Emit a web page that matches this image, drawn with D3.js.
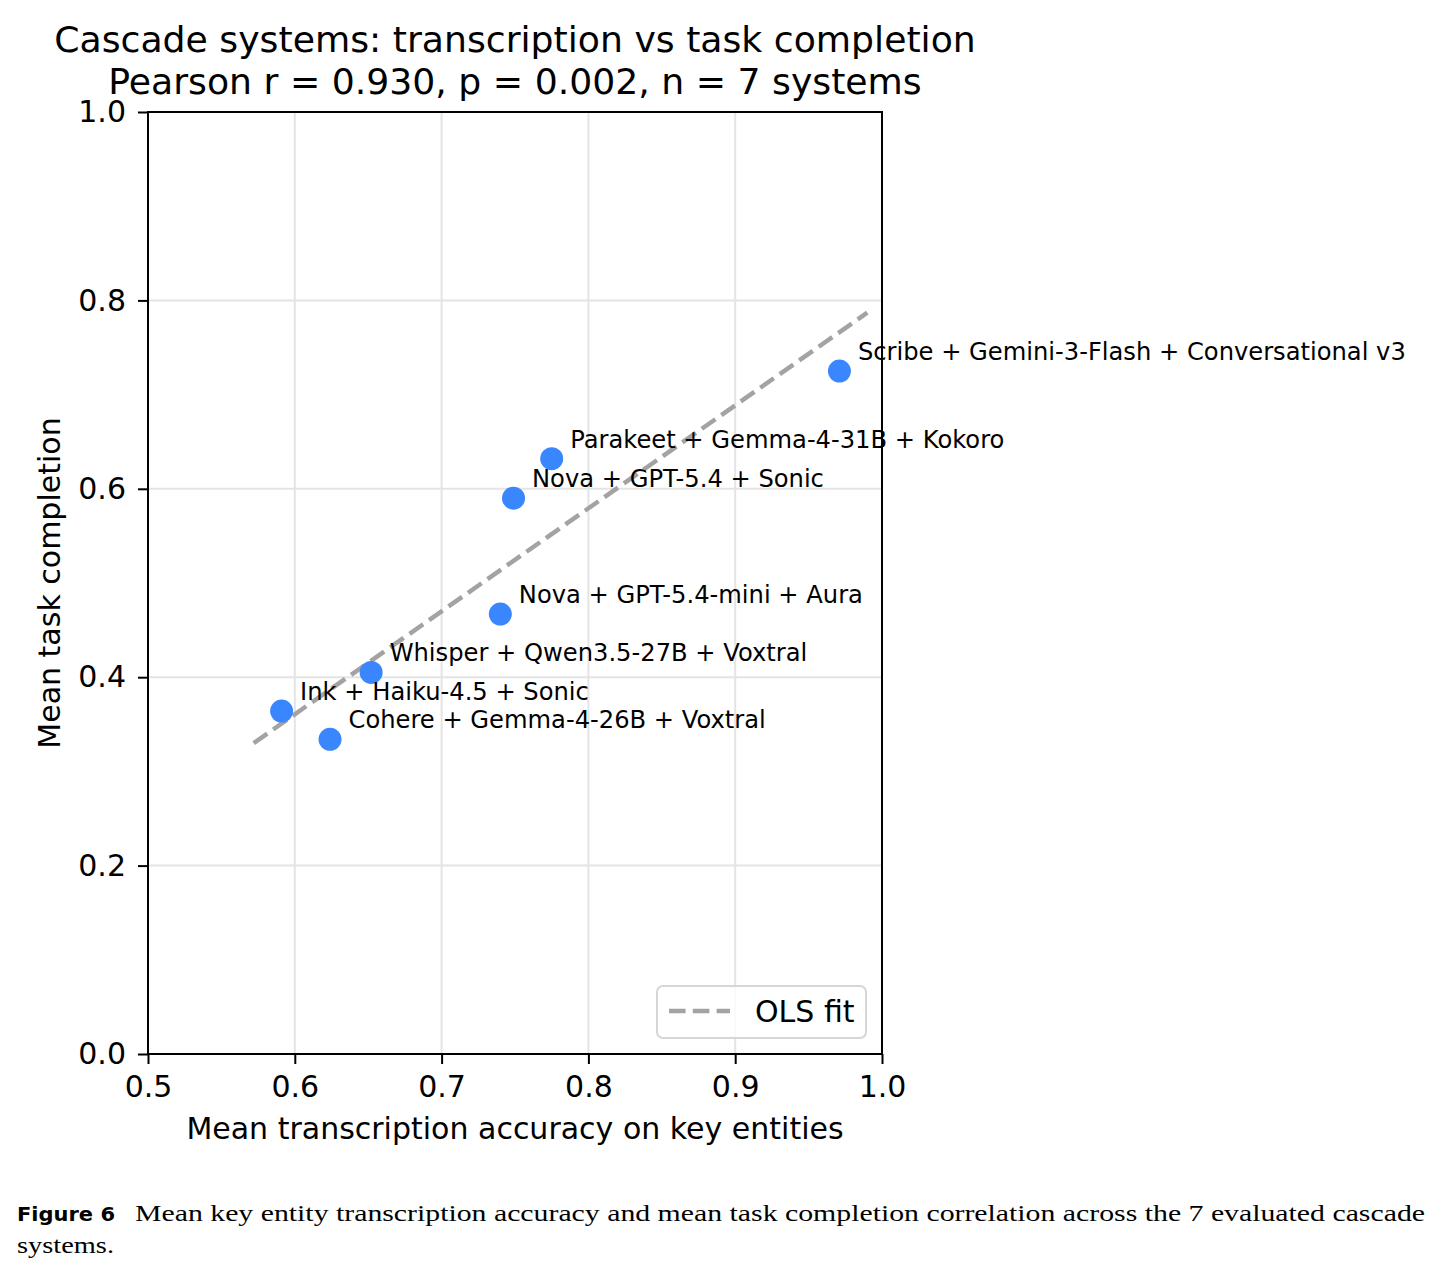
<!DOCTYPE html>
<html><head><meta charset="utf-8">
<script src="https://cdn.jsdelivr.net/npm/d3@7"></script>
<style>body{margin:0;background:#fff;} svg{display:block;}</style>
</head><body>
<script>
const systems = ["Scribe + Gemini-3-Flash + Conversational v3","Parakeet + Gemma-4-31B + Kokoro","Nova + GPT-5.4 + Sonic","Nova + GPT-5.4-mini + Aura","Whisper + Qwen3.5-27B + Voxtral","Ink + Haiku-4.5 + Sonic","Cohere + Gemma-4-26B + Voxtral"];
const accuracy = [0.971, 0.775, 0.749, 0.740, 0.652, 0.591, 0.624];
const completion = [0.725, 0.632, 0.590, 0.467, 0.405, 0.364, 0.334];
const fitX = [0.572, 0.990];
const fitY = [0.330, 0.787];
const xTicks = [0.5,0.6,0.7,0.8,0.9,1.0];
const yTicks = [0.0,0.2,0.4,0.6,0.8,1.0];
const titleLines = ["Cascade systems: transcription vs task completion","Pearson r = 0.930, p = 0.002, n = 7 systems"];
const legendLabel = "OLS fit";
const captionHead = "Figure 6";
const captionLines = ["Mean key entity transcription accuracy and mean task completion correlation across the 7 evaluated cascade","systems."];

const W=1442,H=1275;
const L=148,R=882,T=112,B=1054;
const svg=d3.select("body").append("svg").attr("width",W).attr("height",H);
const x=d3.scaleLinear().domain([0.5,1.0]).range([L,R]);
const y=d3.scaleLinear().domain([0,1]).range([B,T]);
const font="DejaVu Sans";
const fitColor="#a3a3a3";

// grid
svg.append("g").selectAll("line").data(xTicks).join("line").attr("x1",d=>x(d)).attr("x2",d=>x(d)).attr("y1",T).attr("y2",B).attr("stroke","#e4e4e4").attr("stroke-width",2);
svg.append("g").selectAll("line").data(yTicks).join("line").attr("y1",d=>y(d)).attr("y2",d=>y(d)).attr("x1",L).attr("x2",R).attr("stroke","#e4e4e4").attr("stroke-width",2);

// fit line
svg.append("path").datum(fitX.map((v,i)=>[v,fitY[i]])).attr("d",d3.line().x(d=>x(d[0])).y(d=>y(d[1]))).attr("fill","none").attr("stroke",fitColor).attr("stroke-width",4.5).attr("stroke-dasharray","16.6,7.2");

// points
const pts=systems.map((s,i)=>({s,a:accuracy[i],c:completion[i]}));
svg.append("g").selectAll("circle").data(pts).join("circle").attr("cx",d=>x(d.a)).attr("cy",d=>y(d.c)).attr("r",11.5).attr("fill","#3a86ff");
svg.append("g").selectAll("text").data(pts).join("text").attr("x",d=>x(d.a)+18.5).attr("y",d=>y(d.c)-11).text(d=>d.s).attr("font-family",font).attr("font-size",24.2).attr("fill","#000");

// axes
const xa=svg.append("g").attr("transform",`translate(0,${B})`).call(d3.axisBottom(x).tickValues(xTicks).tickFormat(d3.format(".1f")).tickSizeOuter(0).tickSize(10).tickPadding(12));
const ya=svg.append("g").attr("transform",`translate(${L},0)`).call(d3.axisLeft(y).tickValues(yTicks).tickFormat(d3.format(".1f")).tickSizeOuter(0).tickSize(10).tickPadding(12));
[xa,ya].forEach(g=>{g.select(".domain").remove();g.selectAll("line").attr("stroke","#000").attr("stroke-width",2);g.selectAll("text").attr("font-family",font).attr("font-size",30).attr("fill","#000");});
svg.append("rect").attr("x",L).attr("y",T).attr("width",R-L).attr("height",B-T).attr("fill","none").attr("stroke","#000").attr("stroke-width",2);

// labels
svg.append("text").attr("x",(L+R)/2).attr("y",1139).attr("text-anchor","middle").attr("font-family",font).attr("font-size",30).text("Mean transcription accuracy on key entities");
svg.append("text").attr("transform",`translate(60,${(T+B)/2}) rotate(-90)`).attr("text-anchor","middle").attr("font-family",font).attr("font-size",30).text("Mean task completion");
titleLines.forEach((t,i)=>svg.append("text").attr("x",(L+R)/2).attr("y",52+i*42).attr("text-anchor","middle").attr("font-family",font).attr("font-size",36.2).text(t));

// legend
const lg=svg.append("g");
lg.append("rect").attr("x",657).attr("y",986).attr("width",209).attr("height",52).attr("rx",6).attr("fill","#fff").attr("fill-opacity",0.8).attr("stroke","#d6d6d6").attr("stroke-width",2);
lg.append("line").attr("x1",669).attr("x2",730).attr("y1",1011).attr("y2",1011).attr("stroke",fitColor).attr("stroke-width",4.5).attr("stroke-dasharray","16.6,7.2");
lg.append("text").attr("x",755).attr("y",1022).attr("font-family",font).attr("font-size",30).text(legendLabel);

// caption
svg.append("text").attr("x",17).attr("y",1221).attr("font-family","DejaVu Sans").attr("font-stretch","condensed").attr("font-weight","bold").attr("font-size",20).attr("textLength",98).attr("lengthAdjust","spacingAndGlyphs").text(captionHead);
svg.append("text").attr("x",135).attr("y",1221).attr("font-family","Liberation Serif").attr("font-size",23).attr("textLength",1290).attr("lengthAdjust","spacingAndGlyphs").text(captionLines[0]);
svg.append("text").attr("x",17).attr("y",1253).attr("font-family","Liberation Serif").attr("font-size",23).attr("textLength",97).attr("lengthAdjust","spacingAndGlyphs").text(captionLines[1]);
</script>
</body></html>
